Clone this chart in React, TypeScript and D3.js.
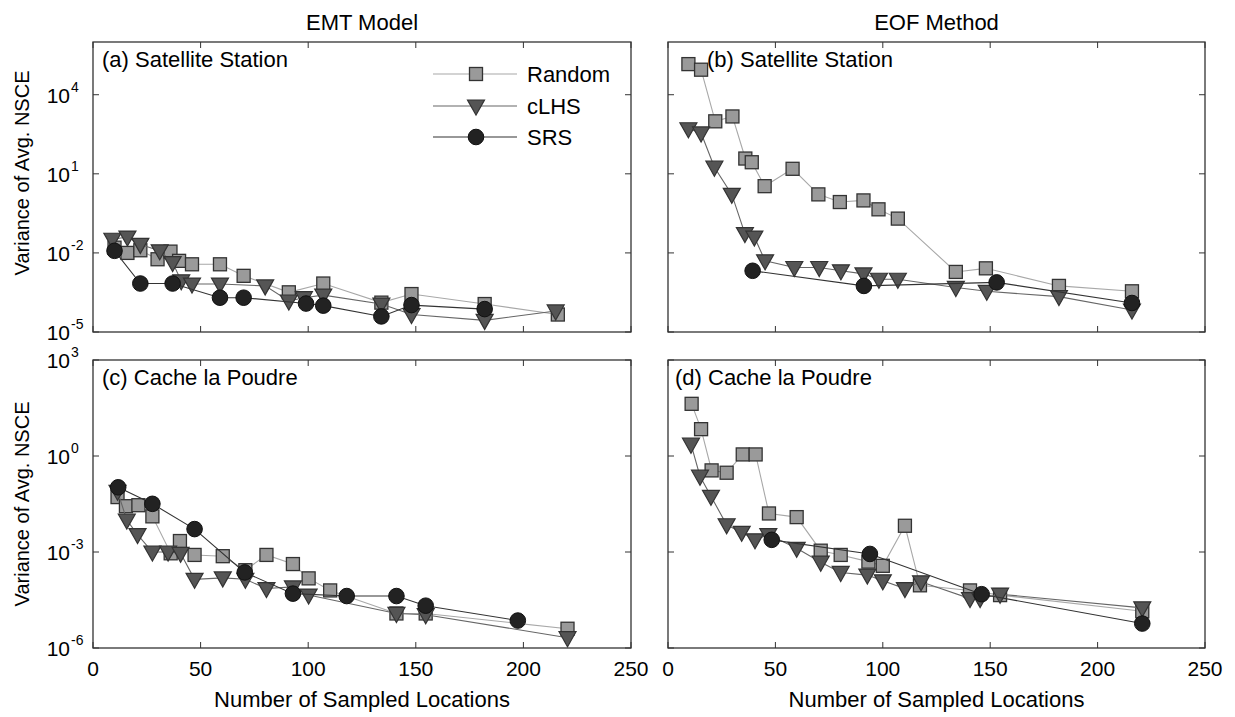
import React from "react";
import * as d3 from "d3";

// ---------- DATA ----------
const panelTitles = ["(a) Satellite Station", "(b) Satellite Station", "(c) Cache la Poudre", "(d) Cache la Poudre"];
const columnTitles = ["EMT Model", "EOF Method"];
const seriesNames = ["Random", "cLHS", "SRS"];
const xTicks = [0, 50, 100, 150, 200, 250];
const yTicksTop = [1e-5, 1e-2, 1e1, 1e4];
const yTicksBottom = [1e-6, 1e-3, 1e0, 1e3];

// (a) EMT, Satellite Station
const aRandomN = [10, 16, 22, 30, 36, 40, 46, 59, 70, 91, 107, 134, 148, 182, 216];
const aRandomV = [1.58e-2, 1.0e-2, 1.26e-2, 5.75e-3, 1.12e-2, 5.0e-3, 3.7e-3, 3.7e-3, 1.35e-3, 3.2e-4, 6.9e-4, 1.3e-4, 2.75e-4, 1.15e-4, 4.6e-5];
const aCLHSN = [9, 16, 22, 31, 37, 41, 46, 59, 80, 91, 98, 107, 134, 148, 182, 215];
const aCLHSV = [3.3e-2, 4.0e-2, 2.1e-2, 1.2e-2, 4.3e-3, 8.7e-4, 6.6e-4, 6.6e-4, 5.6e-4, 1.5e-4, 2.0e-4, 2.5e-4, 1.15e-4, 4.6e-5, 2.75e-5, 6.3e-5];
const aSRSN = [10, 22, 37, 59, 70, 99, 107, 134, 148, 182];
const aSRSV = [1.2e-2, 6.9e-4, 6.9e-4, 2.0e-4, 2.0e-4, 1.2e-4, 1.0e-4, 3.9e-5, 1.05e-4, 7.4e-5];

// (b) EOF, Satellite Station
const bRandomN = [9.5, 15.4, 22, 30, 36, 39, 45, 58, 70, 80, 91, 98, 107, 134, 148, 182, 216];
const bRandomV = [1.45e5, 8.9e4, 980, 1500, 38, 27.5, 3.4, 15.5, 1.66, 0.85, 0.98, 0.45, 0.2, 1.9e-3, 2.6e-3, 5.6e-4, 3.5e-4];
const bCLHSN = [9.5, 15.4, 21.6, 29.7, 35.8, 40.2, 45.2, 58.8, 70.4, 80.5, 91, 98.2, 107, 134, 148.4, 182, 216];
const bCLHSV = [513, 355, 17.8, 1.66, 5.4e-2, 4.0e-2, 5.0e-3, 2.8e-3, 2.8e-3, 2.1e-3, 1.6e-3, 1.0e-3, 1.0e-3, 4.9e-4, 3.5e-4, 2.2e-4, 6.8e-5];
const bSRSN = [39.4, 91.2, 153, 216];
const bSRSV = [2.1e-3, 5.6e-4, 7.6e-4, 1.26e-4];

// (c) EMT, Cache la Poudre
const cRandomN = [11.4, 15.3, 21.1, 27.6, 36.1, 40.4, 47.2, 60.3, 70.8, 80.6, 92.9, 100.2, 110.2, 141, 154.6, 220.5];
const cRandomV = [5.2e-2, 2.7e-2, 2.9e-2, 1.3e-2, 9.1e-4, 2.2e-3, 8.1e-4, 7.4e-4, 2.7e-4, 8.1e-4, 4.2e-4, 1.5e-4, 6.3e-5, 1.2e-5, 1.2e-5, 4.0e-6];
const cCLHSN = [11.4, 15.7, 20.7, 27.6, 34.9, 40.7, 47.2, 60.3, 70.8, 80.6, 92.9, 100.2, 141, 154.6, 220.5];
const cCLHSV = [7.9e-2, 1.0e-2, 3.5e-3, 1.0e-3, 1.0e-3, 9.1e-4, 1.4e-4, 1.55e-4, 1.4e-4, 7.2e-5, 8.1e-5, 4.5e-5, 1.2e-5, 1.1e-5, 2.1e-6];
const cSRSN = [11.7, 27.6, 47.2, 70.5, 92.9, 117.9, 141, 154.6, 197.4];
const cSRSV = [0.105, 3.2e-2, 5.2e-3, 2.3e-4, 5.0e-5, 4.2e-5, 4.2e-5, 2.1e-5, 7.2e-6];

// (d) EOF, Cache la Poudre
const dRandomN = [11, 15.4, 20.3, 27.3, 34.8, 40.8, 47, 59.9, 71.1, 80.4, 93.3, 100, 110.3, 117.3, 140.6, 154.6, 220.8];
const dRandomV = [42.7, 6.9, 0.355, 0.3, 1.12, 1.12, 1.6e-2, 1.23e-2, 1.1e-3, 8.1e-4, 5.0e-4, 3.7e-4, 6.6e-3, 9.1e-5, 6.3e-5, 4.5e-5, 1.4e-5];
const dCLHSN = [10.7, 14.9, 20, 27.3, 34.3, 40.5, 46.7, 59.9, 71.1, 80.4, 92.8, 100, 110.3, 117.8, 140.6, 145.3, 154.6, 220.8];
const dCLHSV = [2.34, 0.234, 5.5e-2, 7.1e-3, 4.1e-3, 2.4e-3, 3.5e-3, 1.3e-3, 4.8e-4, 2.3e-4, 1.9e-4, 1.26e-4, 7.2e-5, 1.17e-4, 3.5e-5, 3.5e-5, 4.8e-5, 1.8e-5];
const dSRSN = [48.3, 94, 146, 220.8];
const dSRSV = [2.4e-3, 8.7e-4, 4.8e-5, 5.8e-6];

// ---------- STYLE ----------
const FONT = "'Liberation Sans', Arial, Helvetica, sans-serif";
const seriesStyle = [
  { line: "#a8a8a8", fill: "#9a9a9a", stroke: "#333333", shape: "square" },
  { line: "#666666", fill: "#555555", stroke: "#333333", shape: "tri" },
  { line: "#333333", fill: "#222222", stroke: "#111111", shape: "circle" },
];

type Series = { n: number[]; v: number[] };

const panels = [
  { title: panelTitles[0], col: 0, row: 0, series: [{ n: aRandomN, v: aRandomV }, { n: aCLHSN, v: aCLHSV }, { n: aSRSN, v: aSRSV }], titleX: 102, legend: true },
  { title: panelTitles[1], col: 1, row: 0, series: [{ n: bRandomN, v: bRandomV }, { n: bCLHSN, v: bCLHSV }, { n: bSRSN, v: bSRSV }], titleX: 707, legend: false },
  { title: panelTitles[2], col: 0, row: 1, series: [{ n: cRandomN, v: cRandomV }, { n: cCLHSN, v: cCLHSV }, { n: cSRSN, v: cSRSV }], titleX: 102, legend: false },
  { title: panelTitles[3], col: 1, row: 1, series: [{ n: dRandomN, v: dRandomV }, { n: dCLHSN, v: dCLHSV }, { n: dSRSN, v: dSRSV }], titleX: 675, legend: false },
];

const colX = [[93, 631], [668, 1205]];
const rowY = [[42, 332], [360, 648]];
const rowDomain: [number, number][] = [[1e-5, 1e6], [1e-6, 1e3]];
const rowTicks = [yTicksTop, yTicksBottom];

function Marker({ shape, x, y, fill, stroke }: { shape: string; x: number; y: number; fill: string; stroke: string }) {
  if (shape === "square") {
    const s = 13;
    return <rect x={x - s / 2} y={y - s / 2} width={s} height={s} fill={fill} stroke={stroke} strokeWidth={1.3} />;
  }
  if (shape === "tri") {
    const w = 8.5, h = 7.5;
    const p = `M${x - w},${y - h * 0.8} L${x + w},${y - h * 0.8} L${x},${y + h * 1.2} Z`;
    return <path d={p} fill={fill} stroke={stroke} strokeWidth={1.2} />;
  }
  return <circle cx={x} cy={y} r={7.8} fill={fill} stroke={stroke} strokeWidth={1} />;
}

function Panel({ p }: { p: typeof panels[number] }) {
  const [x0, x1] = colX[p.col];
  const [y0, y1] = rowY[p.row];
  const xs = d3.scaleLinear().domain([0, 250]).range([x0, x1]);
  const ys = d3.scaleLog().domain(rowDomain[p.row]).range([y1, y0]);
  const tl = 6;
  const lineGen = d3.line<[number, number]>().x((d) => xs(d[0])).y((d) => ys(d[1]));
  return (
    <g>
      <rect x={x0} y={y0} width={x1 - x0} height={y1 - y0} fill="white" stroke="none" />
      {p.series.map((s: Series, i: number) => {
        const st = seriesStyle[i];
        const pts = s.n.map((n, k) => [n, s.v[k]] as [number, number]);
        return (
          <g key={i}>
            <path d={lineGen(pts) || ""} fill="none" stroke={st.line} strokeWidth={1.1} />
            {pts.map((d, k) => (
              <Marker key={k} shape={st.shape} x={xs(d[0])} y={ys(d[1])} fill={st.fill} stroke={st.stroke} />
            ))}
          </g>
        );
      })}
      {/* ticks */}
      {xTicks.map((t) => (
        <g key={"xt" + t}>
          <line x1={xs(t)} x2={xs(t)} y1={y1} y2={y1 - tl} stroke="#333" strokeWidth={1} />
          <line x1={xs(t)} x2={xs(t)} y1={y0} y2={y0 + tl} stroke="#333" strokeWidth={1} />
        </g>
      ))}
      {rowTicks[p.row].map((t) => (
        <g key={"yt" + t}>
          <line x1={x0} x2={x0 + tl} y1={ys(t)} y2={ys(t)} stroke="#333" strokeWidth={1} />
          <line x1={x1} x2={x1 - tl} y1={ys(t)} y2={ys(t)} stroke="#333" strokeWidth={1} />
        </g>
      ))}
      <rect x={x0} y={y0} width={x1 - x0} height={y1 - y0} fill="none" stroke="#333" strokeWidth={1.3} />
      <text x={p.titleX} y={y0 + 25} fontFamily={FONT} fontSize={22} fill="#000">{p.title}</text>
      {/* x tick labels */}
      {p.row === 1 && xTicks.map((t) => (
        <text key={"xl" + t} x={xs(t)} y={676} textAnchor="middle" fontFamily={FONT} fontSize={21} fill="#000">{t}</text>
      ))}
      {p.row === 1 && (
        <text x={(x0 + x1) / 2} y={707} textAnchor="middle" fontFamily={FONT} fontSize={22} fill="#000">Number of Sampled Locations</text>
      )}
      {/* y tick labels */}
      {p.col === 0 && rowTicks[p.row].map((t) => (
        <g key={"yl" + t}>
          <text x={70} y={ys(t) + 8} textAnchor="end" fontFamily={FONT} fontSize={21} fill="#000">10</text>
          <text x={71} y={ys(t) - 3} textAnchor="start" fontFamily={FONT} fontSize={14} fill="#000">{String(Math.round(Math.log10(t)))}</text>
        </g>
      ))}
      {p.col === 0 && (
        <text transform={`translate(29,${p.row === 0 ? 173 : 504}) rotate(-90)`} textAnchor="middle" fontFamily={FONT} fontSize={20} fill="#000">Variance of Avg. NSCE</text>
      )}
      {p.row === 0 && (
        <text x={(x0 + x1) / 2} y={30} textAnchor="middle" fontFamily={FONT} fontSize={22} fill="#000">{columnTitles[p.col]}</text>
      )}
      {p.legend && seriesNames.map((name, i) => {
        const ly = [74, 106, 137][i];
        const st = seriesStyle[i];
        return (
          <g key={name}>
            <line x1={433} x2={517} y1={ly} y2={ly} stroke={st.line} strokeWidth={1.1} />
            <Marker shape={st.shape} x={476} y={ly} fill={st.fill} stroke={st.stroke} />
            <text x={527} y={ly + 8} fontFamily={FONT} fontSize={22} fill="#000">{name}</text>
          </g>
        );
      })}
    </g>
  );
}

export default function App() {
  return (
    <svg width={1235} height={717} style={{ position: "absolute", left: 0, top: 0, background: "white" }}>
      <rect x={0} y={0} width={1235} height={717} fill="white" />
      {panels.map((p, i) => (
        <Panel key={i} p={p} />
      ))}
    </svg>
  );
}
